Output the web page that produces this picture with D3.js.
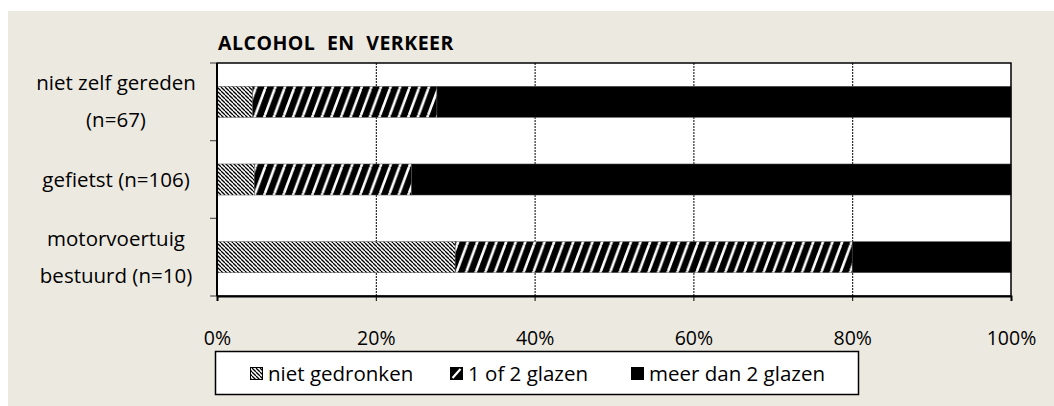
<!DOCTYPE html>
<html>
<head>
<meta charset="utf-8">
<script src="https://cdn.jsdelivr.net/npm/d3@7"></script>
<style>
  body { margin: 0; background: #fff; }
  svg text { font-family: "Open Sans", "Noto Sans", sans-serif; fill: #000; }
</style>
</head>
<body>
<div id="chart"></div>
<script>
// categories (multi-line labels split on "|")
var categories = ["niet zelf gereden|(n=67)", "gefietst (n=106)", "motorvoertuig|bestuurd (n=10)"];
var seriesNames = ["niet gedronken", "1 of 2 glazen", "meer dan 2 glazen"];
// percentages per category
var nietGedronken = [4.5, 4.7, 30];
var eenOfTweeGlazen = [23.2, 19.8, 50];
var meerDanTwee = [72.3, 75.5, 20];
var xTicks = [0, 20, 40, 60, 80, 100];

var W = 1054, H = 406;
var margin = { top: 63, left: 217 },
    width = 1011 - margin.left,
    height = 296 - margin.top;

var svg = d3.select("#chart").append("svg")
    .attr("width", W).attr("height", H);

// background panel
svg.append("rect").attr("x", 8).attr("y", 11).attr("width", W - 8).attr("height", H - 11)
    .attr("fill", "#ece9e0");

// patterns
var defs = svg.append("defs");
var p1 = defs.append("pattern").attr("id", "pat-niet")
    .attr("patternUnits", "userSpaceOnUse").attr("width", 4).attr("height", 4);
p1.append("rect").attr("width", 4).attr("height", 4).attr("fill", "#fff");
[-4, 0, 4].forEach(function (o) {
    p1.append("line").attr("x1", o).attr("y1", 0).attr("x2", o + 4).attr("y2", 4)
        .attr("stroke", "#000").attr("stroke-width", 1.3);
});
var pw = 9.6, ph = 26;
var p2 = defs.append("pattern").attr("id", "pat-een")
    .attr("patternUnits", "userSpaceOnUse").attr("width", pw).attr("height", ph);
p2.append("rect").attr("width", pw).attr("height", ph).attr("fill", "#000");
[-pw, 0, pw].forEach(function (o) {
    p2.append("line").attr("x1", o).attr("y1", ph).attr("x2", o + pw).attr("y2", 0)
        .attr("stroke", "#fff").attr("stroke-width", 2.6);
});

var fills = ["url(#pat-niet)", "url(#pat-een)", "#000"];

var g = svg.append("g").attr("transform", "translate(" + margin.left + "," + margin.top + ")");

// scales
var x = d3.scaleLinear().domain([0, 100]).range([0, width]);
var y = d3.scaleBand().domain(categories).range([0, height]).paddingInner(0.6).paddingOuter(0.3);

// plot area
g.append("rect").attr("width", width).attr("height", height).attr("fill", "#fff");

// dotted gridlines
g.selectAll(".grid").data(xTicks.filter(function (d) { return d > 0 && d < 100; }))
    .enter().append("line")
    .attr("x1", function (d) { return x(d) + 0.5; }).attr("x2", function (d) { return x(d) + 0.5; })
    .attr("y1", 0).attr("y2", height)
    .attr("stroke", "#000").attr("stroke-width", 1).attr("stroke-dasharray", "2,1");

// stack data
var data = categories.map(function (c, i) {
    return { cat: c, a: nietGedronken[i], b: eenOfTweeGlazen[i], c: meerDanTwee[i] };
});
var stacked = d3.stack().keys(["a", "b", "c"])(data);

g.selectAll(".layer").data(stacked).enter().append("g")
    .attr("fill", function (d, i) { return fills[i]; })
    .selectAll("rect").data(function (d) { return d; }).enter().append("rect")
    .attr("x", function (d) { return x(d[0]); })
    .attr("width", function (d) { return x(d[1]) - x(d[0]); })
    .attr("y", function (d) { return y(d.data.cat); })
    .attr("height", y.bandwidth())
    .attr("stroke", "#555").attr("stroke-width", 0.5);

// frame
g.append("rect").attr("width", width).attr("height", height)
    .attr("fill", "none").attr("stroke", "#000").attr("stroke-width", 1.5);

// x axis
var xAxis = g.append("g").attr("transform", "translate(0," + height + ")")
    .call(d3.axisBottom(x).tickValues(xTicks).tickSize(5).tickFormat(function (d) { return d + "%"; }));
xAxis.select(".domain").attr("stroke", "#000").attr("stroke-width", 2);
xAxis.selectAll(".tick line").attr("stroke", "#000");
xAxis.selectAll("text").attr("font-size", 19.5).attr("dy", 0).attr("y", 49)
    .style("font-family", "'Open Sans', sans-serif");

// y axis: ticks at band boundaries
var bounds = [0].concat(categories.map(function (c) { return y(c) + y.bandwidth() / 2 + y.step() / 2; }));
g.selectAll(".ytick").data(bounds).enter().append("line")
    .attr("x1", -7).attr("x2", 0)
    .attr("y1", function (d) { return d; }).attr("y2", function (d) { return d; })
    .attr("stroke", "#555").attr("stroke-width", 1.2);
g.append("line").attr("x1", 0).attr("x2", 0).attr("y1", 0).attr("y2", height)
    .attr("stroke", "#000").attr("stroke-width", 2);

// category labels
categories.forEach(function (c) {
    var lines = c.split("|");
    var cy = y(c) + y.bandwidth() / 2;
    var t = g.append("text").attr("text-anchor", "middle").attr("font-size", 20.5);
    lines.forEach(function (l, j) {
        t.append("tspan").attr("x", 116 - margin.left)
            .attr("y", cy + (j - (lines.length - 1) / 2) * 37 + 7)
            .text(l);
    });
});

// title
svg.append("text").attr("x", 218).attr("y", 50)
    .attr("font-size", 19.5).attr("font-weight", "bold").attr("word-spacing", 6)
    .attr("letter-spacing", 0.5)
    .text("ALCOHOL EN VERKEER");

// legend
var leg = svg.append("g");
leg.append("rect").attr("x", 215.5).attr("y", 351.5).attr("width", 643).attr("height", 43)
    .attr("fill", "#fff").attr("stroke", "#000").attr("stroke-width", 1.5);
var legX = [250, 450, 631];
seriesNames.forEach(function (s, i) {
    leg.append("rect").attr("x", legX[i] + 0.5).attr("y", 367.5).attr("width", 12).attr("height", 12)
        .attr("fill", i === 0 ? "url(#pat-niet)" : "#000")
        .attr("stroke", "#000").attr("stroke-width", 1);
    if (i === 1) {
        leg.append("line").attr("x1", legX[i] + 2.5).attr("y1", 378).attr("x2", legX[i] + 10.5).attr("y2", 369)
            .attr("stroke", "#fff").attr("stroke-width", 2.2);
    }
    leg.append("text").attr("x", legX[i] + 18).attr("y", 380.5).attr("font-size", 20.5).text(s);
});
</script>
</body>
</html>
